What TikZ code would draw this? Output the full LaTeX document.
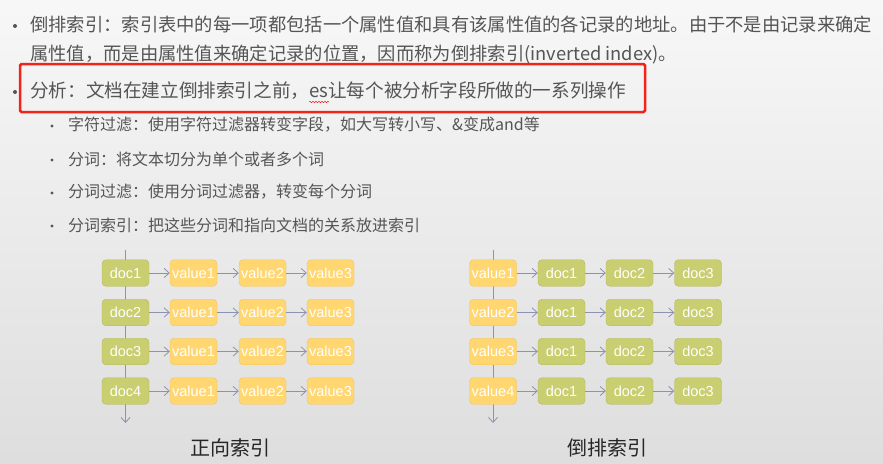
\documentclass[tikz,border=0pt]{standalone}
\usepackage{fontspec}
\usetikzlibrary{arrows.meta,decorations.pathmorphing}
\newfontfamily\cjk{Noto Sans CJK SC}
\newfontfamily\boxfont{Liberation Sans}
\definecolor{docgreen}{HTML}{C9CE70}
\definecolor{docedge}{HTML}{B2B75A}
\definecolor{valyellow}{HTML}{FFD670}
\definecolor{valedge}{HTML}{F0C45C}
\definecolor{linkblue}{HTML}{8C92B0}
\definecolor{txtgrey}{HTML}{555555}
\definecolor{markred}{HTML}{F2231B}
\tikzset{
  doc/.style={draw=docedge, fill=docgreen, rounded corners=4pt, minimum width=47pt,
    minimum height=26.5pt, inner sep=0pt, text=white, font=\boxfont\fontsize{14.5}{16}\selectfont},
  val/.style={doc, draw=valedge, fill=valyellow},
  link/.style={-{Straight Barb[length=5pt,width=9pt]}, draw=linkblue, line width=0.8pt},
  item/.style={anchor=west, inner sep=0pt, text=txtgrey, font=\cjk\fontsize{18.3}{20}\selectfont},
  subitem/.style={item, font=\cjk\fontsize{16}{18}\selectfont},
  bullet/.style={circle, fill=txtgrey, inner sep=0pt, minimum size=4pt},
  subbullet/.style={bullet, minimum size=3.2pt},
  caption/.style={text=black!85, font=\cjk\fontsize{20}{22}\selectfont}
}
\begin{document}
\begin{tikzpicture}[x=1pt,y=-1pt]
\useasboundingbox (0,0) rectangle (883,463);
\shade[top color=white!97!black, bottom color=white!87!black] (0,0) rectangle (883,463);

% text
\node[bullet] (B1) at (15,26) {};
\node[item] (T1) at (30,25) {倒排索引：索引表中的每一项都包括一个属性值和具有该属性值的各记录的地址。由于不是由记录来确定};
\node[item] (T2) at (30,55) {属性值，而是由属性值来确定记录的位置，因而称为倒排索引(inverted index)。};
\node[bullet] (B2) at (15,92) {};
\node[item, font=\cjk\fontsize{18.6}{21}\selectfont] (T3) at (30,91) {分析：文档在建立倒排索引之前，es让每个被分析字段所做的一系列操作};
\draw[markred, line width=2.5pt, rounded corners=1.5pt] (20,64) rectangle (645,112);
\draw[markred, line width=0.5pt, decorate, decoration={snake, amplitude=0.7pt, segment length=3pt}] (309,102) -- (329,102);

\node[subbullet] (S1b) at (52,126) {};
\node[subitem] (S1) at (68,125) {字符过滤：使用字符过滤器转变字段，如大写转小写、\&变成and等};
\node[subbullet] (S2b) at (52,160) {};
\node[subitem] (S2) at (68,159) {分词：将文本切分为单个或者多个词};
\node[subbullet] (S3b) at (52,193) {};
\node[subitem] (S3) at (68,192) {分词过滤：使用分词过滤器，转变每个分词};
\node[subbullet] (S4b) at (52,226) {};
\node[subitem] (S4) at (68,225) {分词索引：把这些分词和指向文档的关系放进索引};

% forward index
\coordinate (Ftop) at (125.5,250);
\coordinate (Fend) at (125.5,423);
\draw[link] (Ftop) -- (Fend);
\foreach \r/\y in {1/273,2/312.5,3/351.5,4/391}{
  \node[doc] (F\r0) at (125.5,\y) {doc\r};
  \node[val] (F\r1) at (193.5,\y) {value1};
  \node[val] (F\r2) at (262.5,\y) {value2};
  \node[val] (F\r3) at (330.5,\y) {value3};
  \draw[link] (F\r0.east) -- (F\r1.west);
  \draw[link] (F\r1.east) -- (F\r2.west);
  \draw[link] (F\r2.east) -- (F\r3.west);
}
\node[caption] (Fcap) at (230,448) {正向索引};

% inverted index
\coordinate (Itop) at (493,250);
\coordinate (Iend) at (493,423);
\draw[link] (Itop) -- (Iend);
\foreach \r/\y in {1/273,2/312.5,3/351.5,4/391}{
  \node[val] (I\r0) at (493,\y) {value\r};
  \node[doc] (I\r1) at (561.5,\y) {doc1};
  \node[doc] (I\r2) at (629.5,\y) {doc2};
  \node[doc] (I\r3) at (698,\y) {doc3};
  \draw[link] (I\r0.east) -- (I\r1.west);
  \draw[link] (I\r1.east) -- (I\r2.west);
  \draw[link] (I\r2.east) -- (I\r3.west);
}
\node[caption] (Icap) at (607,448) {倒排索引};
\end{tikzpicture}
\end{document}
